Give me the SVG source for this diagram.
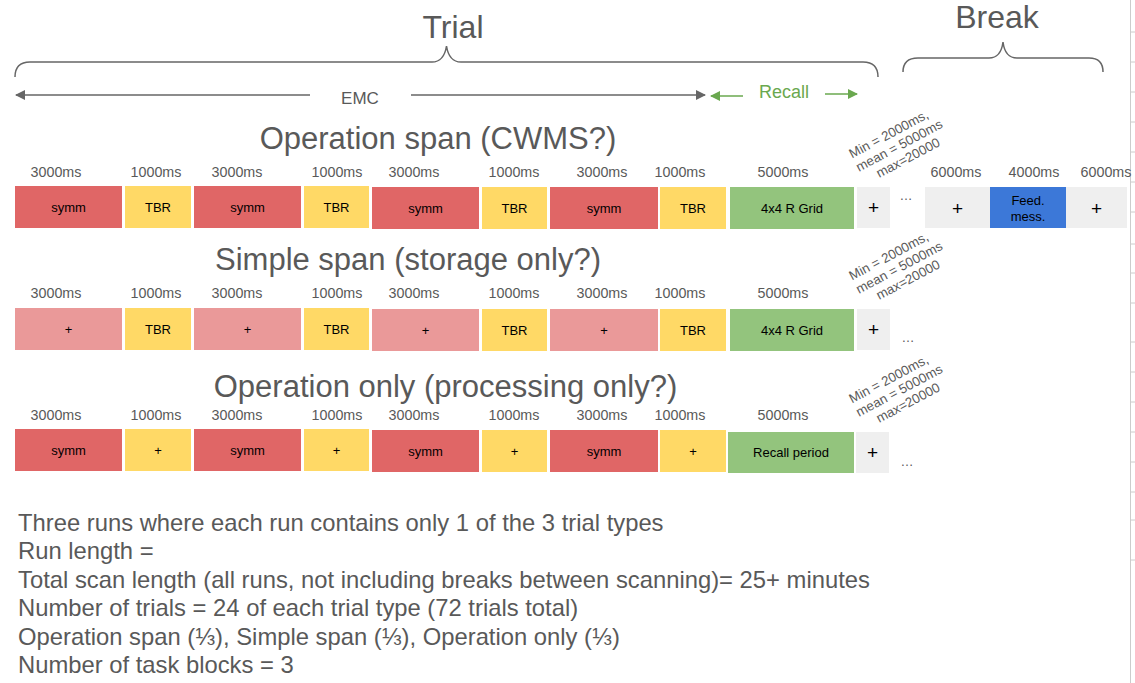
<svg xmlns="http://www.w3.org/2000/svg" width="1135" height="683" viewBox="0 0 1135 683">
<style>
text{font-family:"Liberation Sans",Arial,sans-serif;}
.ttl{font-size:31px;fill:#595959;text-anchor:middle;}
.big{font-size:32px;fill:#595959;text-anchor:middle;}
.ms{font-size:14.3px;fill:#595959;text-anchor:middle;}
.bx{font-size:13px;fill:#000;text-anchor:middle;}
.dots{font-size:13px;fill:#595959;text-anchor:middle;}
.pl{font-size:19px;fill:#000;text-anchor:middle;}
.rot{font-size:13.3px;fill:#595959;text-anchor:middle;}
.note{font-size:23.8px;fill:#595959;}
.red{fill:#e06666;}
.pink{fill:#ea9999;}
.yel{fill:#ffd966;}
.grn{fill:#93c47d;}
.gry{fill:#efefef;}
.blu{fill:#3c78d8;}
.brace{fill:none;stroke:#666;stroke-width:1.5;}
</style>
<defs>
<marker id="ag" viewBox="0 0 10 10" refX="9" refY="5" markerWidth="10" markerHeight="10" markerUnits="userSpaceOnUse" orient="auto"><path d="M0,0 L10,5 L0,10 z" fill="#666"/></marker>
<marker id="agr" viewBox="0 0 10 10" refX="9" refY="5" markerWidth="10" markerHeight="10" markerUnits="userSpaceOnUse" orient="auto"><path d="M0,0 L10,5 L0,10 z" fill="#6aa84f"/></marker>
</defs>

<!-- spreadsheet edge -->
<g id="edge" stroke="#cccccc" stroke-width="1">
<line x1="1130.5" y1="0" x2="1130.5" y2="683"/>
<path d="M1130,32H1135M1130,62H1135M1130,92H1135M1130,122H1135M1130,152H1135M1130,182H1135M1130,212H1135M1130,244H1135M1130,273H1135M1130,303H1135M1130,342H1135M1130,372H1135M1130,402H1135M1130,432H1135M1130,462H1135M1130,492H1135M1130,520H1135M1130,560H1135"/>
</g>

<!-- headers -->
<g id="trial">
<text class="big" x="453" y="38">Trial</text>
<path class="brace" d="M15,77 Q15,62 30,62 L432,62 Q444,62 446.5,46 Q449,62 461,62 L863,62 Q878,62 878,77"/>
</g>
<g id="break">
<text class="big" x="997" y="28">Break</text>
<path class="brace" d="M903,72 Q903,58 918,58 L989,58 Q1001,58 1003,42 Q1005,58 1017,58 L1089,58 Q1103,58 1103,72"/>
</g>

<g id="connectors">
<line x1="310" y1="95" x2="16" y2="95" stroke="#666" stroke-width="1.3" marker-end="url(#ag)"/>
<line x1="411" y1="95" x2="705" y2="95" stroke="#666" stroke-width="1.3" marker-end="url(#ag)"/>
<line x1="743" y1="96" x2="711" y2="96" stroke="#6aa84f" stroke-width="1.5" marker-end="url(#agr)"/>
<line x1="825" y1="94" x2="857" y2="94" stroke="#6aa84f" stroke-width="1.5" marker-end="url(#agr)"/>
</g>
<g id="labels-top">
<text x="360" y="104" style="font-size:17px;fill:#595959;text-anchor:middle">EMC</text>
<text x="784" y="98" style="font-size:18px;fill:#6aa84f;text-anchor:middle">Recall</text>
</g>

<!-- Row 1 -->
<g id="row1">
<text class="ttl" x="438" y="149">Operation span (CWMS?)</text>
<g class="ms-row">
<text class="ms" x="56" y="177">3000ms</text>
<text class="ms" x="156" y="177">1000ms</text>
<text class="ms" x="237" y="177">3000ms</text>
<text class="ms" x="337" y="177">1000ms</text>
<text class="ms" x="414" y="177">3000ms</text>
<text class="ms" x="514" y="177">1000ms</text>
<text class="ms" x="602" y="177">3000ms</text>
<text class="ms" x="680" y="177">1000ms</text>
<text class="ms" x="783" y="177">5000ms</text>
<text class="ms" x="956" y="177">6000ms</text>
<text class="ms" x="1034" y="177">4000ms</text>
<text class="ms" x="1106" y="177">6000ms</text>
</g>
<rect class="red" x="15" y="186" width="107" height="42"/>
<text class="bx" x="68.5" y="212">symm</text>
<rect class="yel" x="125" y="186" width="66" height="42"/>
<text class="bx" x="158" y="212">TBR</text>
<rect class="red" x="194" y="186" width="107" height="42"/>
<text class="bx" x="247.5" y="212">symm</text>
<rect class="yel" x="304" y="186" width="65" height="42"/>
<text class="bx" x="336.5" y="212">TBR</text>
<rect class="red" x="372" y="187" width="107" height="42"/>
<text class="bx" x="425.5" y="213">symm</text>
<rect class="yel" x="482" y="187" width="65" height="42"/>
<text class="bx" x="514.5" y="213">TBR</text>
<rect class="red" x="550" y="187" width="108" height="42"/>
<text class="bx" x="604" y="213">symm</text>
<rect class="yel" x="660" y="187" width="66" height="42"/>
<text class="bx" x="693" y="213">TBR</text>
<rect class="grn" x="730" y="187" width="124" height="42"/>
<text class="bx" x="792" y="213">4x4 R Grid</text>
<rect class="gry" x="857" y="187" width="33" height="41"/>
<text class="pl" x="873.5" y="214">+</text>
<text class="dots" x="906" y="200">…</text>
<rect class="gry" x="925" y="187" width="65" height="41"/>
<text class="pl" x="957.5" y="215">+</text>
<rect class="blu" x="990" y="187" width="76" height="41"/>
<text class="bx" x="1028" y="205">Feed.</text>
<text class="bx" x="1028" y="221">mess.</text>
<rect class="gry" x="1066" y="187" width="61" height="41"/>
<text class="pl" x="1096.5" y="215">+</text>
<g transform="translate(899,145) rotate(-28)">
<text class="rot" x="-4" y="-10">Min = 2000ms,</text>
<text class="rot" x="0" y="5">mean = 5000ms</text>
<text class="rot" x="2" y="20">max=20000</text>
</g>
</g>

<!-- Row 2 -->
<g id="row2">
<text class="ttl" x="408" y="270">Simple span (storage only?)</text>
<text class="ms" x="56" y="298">3000ms</text>
<text class="ms" x="156" y="298">1000ms</text>
<text class="ms" x="237" y="298">3000ms</text>
<text class="ms" x="337" y="298">1000ms</text>
<text class="ms" x="414" y="298">3000ms</text>
<text class="ms" x="514" y="298">1000ms</text>
<text class="ms" x="602" y="298">3000ms</text>
<text class="ms" x="680" y="298">1000ms</text>
<text class="ms" x="783" y="298">5000ms</text>
<rect class="pink" x="15" y="308" width="107" height="42"/>
<text class="bx" x="68.5" y="334">+</text>
<rect class="yel" x="125" y="308" width="66" height="42"/>
<text class="bx" x="158" y="334">TBR</text>
<rect class="pink" x="194" y="308" width="107" height="42"/>
<text class="bx" x="247.5" y="334">+</text>
<rect class="yel" x="304" y="308" width="65" height="42"/>
<text class="bx" x="336.5" y="334">TBR</text>
<rect class="pink" x="372" y="309" width="107" height="42"/>
<text class="bx" x="425.5" y="335">+</text>
<rect class="yel" x="482" y="309" width="65" height="42"/>
<text class="bx" x="514.5" y="335">TBR</text>
<rect class="pink" x="550" y="309" width="108" height="42"/>
<text class="bx" x="604" y="335">+</text>
<rect class="yel" x="660" y="309" width="66" height="42"/>
<text class="bx" x="693" y="335">TBR</text>
<rect class="grn" x="730" y="309" width="124" height="42"/>
<text class="bx" x="792" y="335">4x4 R Grid</text>
<rect class="gry" x="857" y="309" width="33" height="41"/>
<text class="pl" x="873.5" y="336">+</text>
<text class="dots" x="908" y="342">…</text>
<g transform="translate(899,267) rotate(-28)">
<text class="rot" x="-4" y="-10">Min = 2000ms,</text>
<text class="rot" x="0" y="5">mean = 5000ms</text>
<text class="rot" x="2" y="20">max=20000</text>
</g>
</g>

<!-- Row 3 -->
<g id="row3">
<text class="ttl" x="445.5" y="397">Operation only (processing only?)</text>
<text class="ms" x="56" y="420">3000ms</text>
<text class="ms" x="156" y="420">1000ms</text>
<text class="ms" x="237" y="420">3000ms</text>
<text class="ms" x="337" y="420">1000ms</text>
<text class="ms" x="414" y="420">3000ms</text>
<text class="ms" x="514" y="420">1000ms</text>
<text class="ms" x="602" y="420">3000ms</text>
<text class="ms" x="680" y="420">1000ms</text>
<text class="ms" x="783" y="420">5000ms</text>
<rect class="red" x="15" y="429" width="107" height="42"/>
<text class="bx" x="68.5" y="455">symm</text>
<rect class="yel" x="125" y="429" width="66" height="42"/>
<text class="bx" x="158" y="455">+</text>
<rect class="red" x="194" y="429" width="107" height="42"/>
<text class="bx" x="247.5" y="455">symm</text>
<rect class="yel" x="304" y="429" width="65" height="42"/>
<text class="bx" x="336.5" y="455">+</text>
<rect class="red" x="372" y="430" width="107" height="42"/>
<text class="bx" x="425.5" y="456">symm</text>
<rect class="yel" x="482" y="430" width="65" height="42"/>
<text class="bx" x="514.5" y="456">+</text>
<rect class="red" x="550" y="430" width="108" height="42"/>
<text class="bx" x="604" y="456">symm</text>
<rect class="yel" x="660" y="430" width="66" height="42"/>
<text class="bx" x="693" y="456">+</text>
<rect class="grn" x="728" y="432" width="126" height="41"/>
<text class="bx" x="791" y="457">Recall period</text>
<rect class="gry" x="856" y="432" width="33" height="41"/>
<text class="pl" x="872.5" y="459">+</text>
<text class="dots" x="907" y="466">…</text>
<g transform="translate(899,390) rotate(-28)">
<text class="rot" x="-4" y="-10">Min = 2000ms,</text>
<text class="rot" x="0" y="5">mean = 5000ms</text>
<text class="rot" x="2" y="20">max=20000</text>
</g>
</g>

<!-- notes -->
<g id="notes">
<text class="note" x="18" y="531">Three runs where each run contains only 1 of the 3 trial types</text>
<text class="note" x="18" y="559">Run length =</text>
<text class="note" x="18" y="588">Total scan length (all runs, not including breaks between scanning)= 25+ minutes</text>
<text class="note" x="18" y="616">Number of trials = 24 of each trial type (72 trials total)</text>
<text class="note" x="18" y="645">Operation span (⅓), Simple span (⅓), Operation only (⅓)</text>
<text class="note" x="18" y="673">Number of task blocks = 3</text>
</g>
</svg>
